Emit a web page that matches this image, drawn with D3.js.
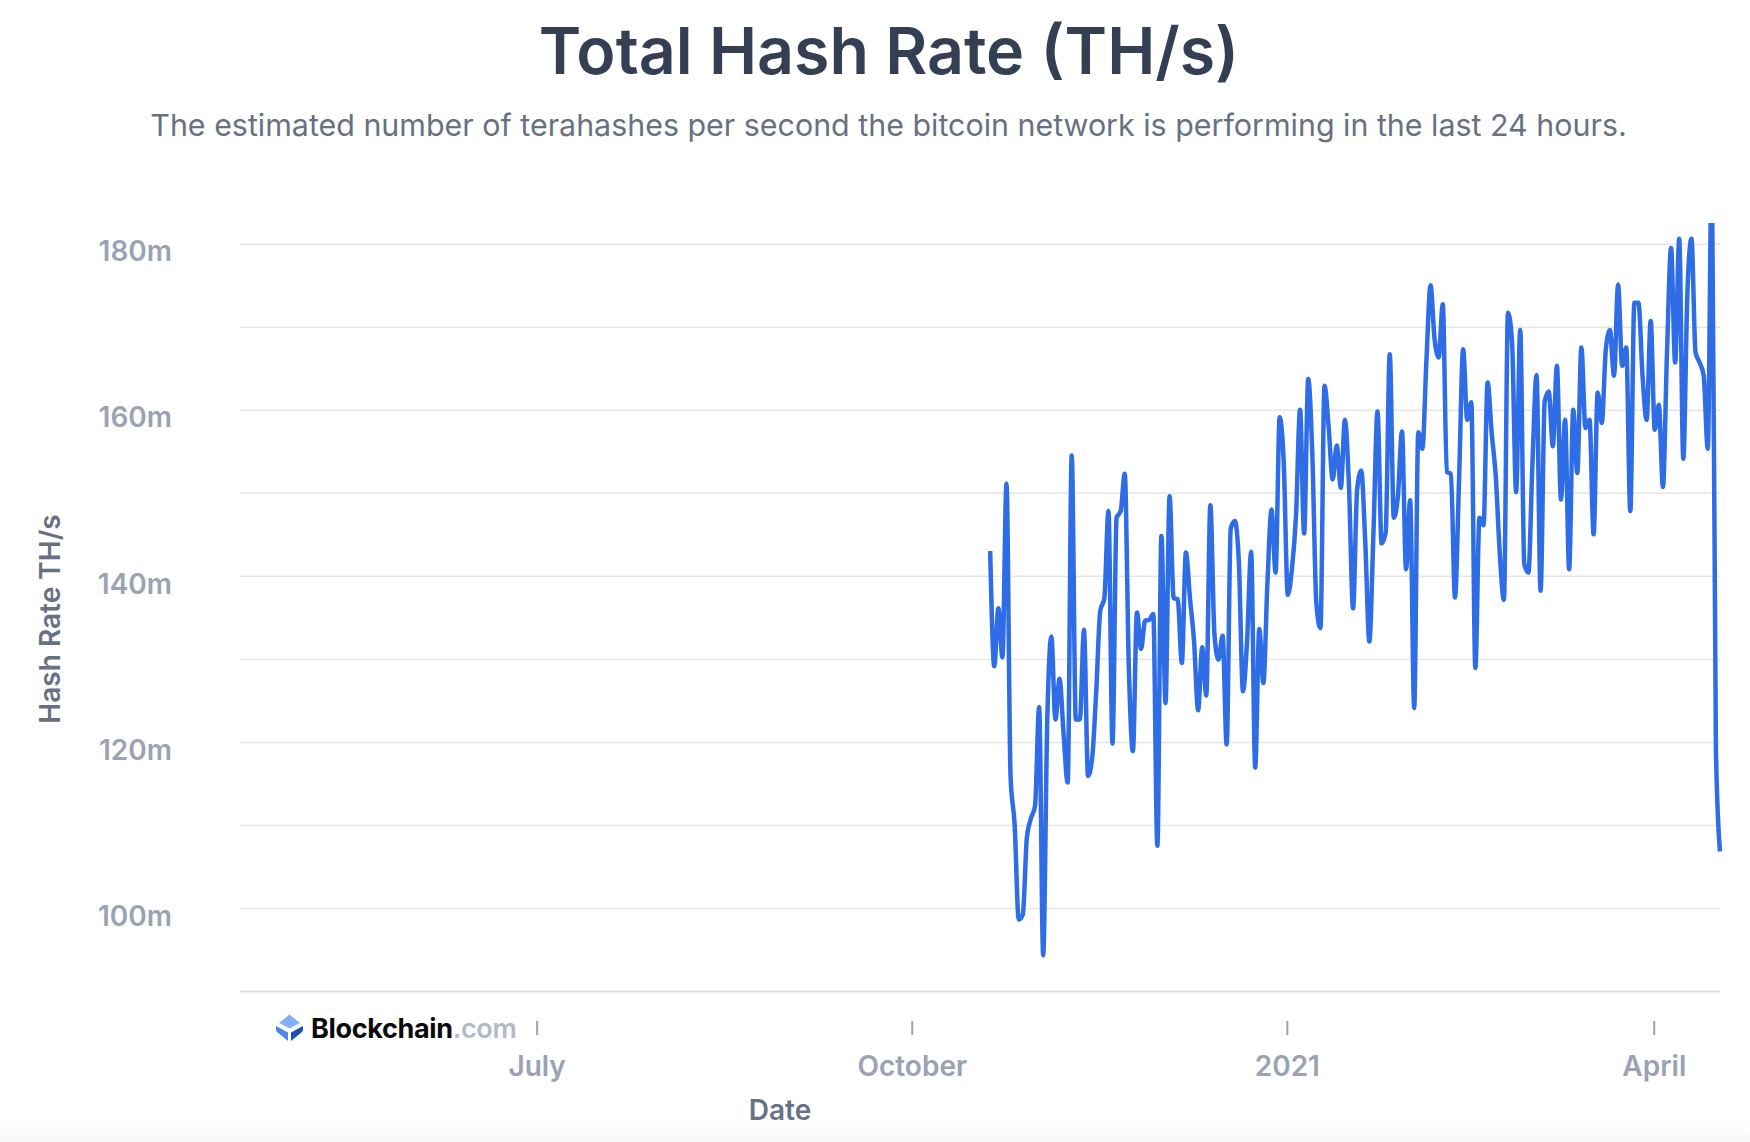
<!DOCTYPE html>
<html>
<head>
<meta charset="utf-8">
<title>Total Hash Rate (TH/s)</title>
<script src="https://cdn.jsdelivr.net/npm/d3@7"></script>
<style>
  body { margin: 0; background: #fff; font-family: Inter, sans-serif; }
  svg { display: block; }
</style>
</head>
<body>
<script>
// daily hash rate in millions of TH/s, first day is firstDay
const firstDay = Date.UTC(2020, 9, 20);
const hashRate = [
  143, 129.1, 136.1, 130.2, 151.1, 115.8, 110, 98.6, 99.2, 108.5,
  110.8, 112.3, 124.2, 94.3, 122.7, 132.7, 122.7, 127.6, 121, 115.1,
  154.5, 122.7, 122.7, 133.5, 115.9, 118, 126, 135.8, 137.3, 147.8,
  119.8, 147, 147.8, 152.3, 129.1, 118.9, 135.6, 131.2, 134.6, 134.7,
  135.4, 107.5, 144.8, 124.7, 149.6, 137.3, 137.2, 129.5, 142.8, 137.3,
  132.1, 123.8, 131.4, 125.6, 148.5, 133, 129.9, 132.8, 119.7, 145.7,
  146.6, 141.6, 126.1, 132.1, 142.9, 116.9, 133.6,
  127.1, 139.2, 148, 140.4, 159.1, 153.6, 137.7, 140.8, 147.2, 160,
  145.1, 163.7, 154.8, 136.7, 133.7, 162.9, 158, 151.6, 155.7, 150.6,
  158.8, 150.8, 136.1, 150.4, 152.7, 144, 132.1, 145.2, 159.8, 143.9,
  145.2, 166.7, 147, 149.6, 157.4, 140.8, 149.1, 124.1, 157.3, 155.3,
  166, 175, 168.5, 166.3, 172.7, 152.5, 152.3, 137.4, 151.6, 167.3,
  158.8, 160.9, 128.9, 147, 146.1, 163.3, 157.2, 152, 142.6,
  137.1, 171.7, 168.1, 150.1, 169.6, 141.4, 140.4, 153.6, 164.2, 138.2,
  161, 162.2, 155.6, 165.3, 149.2, 158.8, 140.8, 160, 152.4, 167.5,
  157.8, 158.8, 145, 162.1, 158.4, 167.3, 169.6, 164.1, 175.1, 165.3,
  167.5, 147.8, 172.9, 172.9, 164.1, 158.8, 170.7, 157.6, 160.6, 150.7,
  166.9, 179.5, 165.7, 180.6, 154.1, 174.1, 180.6, 166.9, 165.7, 164.1,
  155.3, 190, 119, 106.8
];
const hashDates = hashRate.map((d, i) => new Date(firstDay + i * 86400000));

const gridValues = [90, 100, 110, 120, 130, 140, 150, 160, 170, 180];
const yTickValues = [100, 120, 140, 160, 180];
const xTickDates = [Date.UTC(2020, 6, 1), Date.UTC(2020, 9, 1), Date.UTC(2021, 0, 1), Date.UTC(2021, 3, 1)].map(d => new Date(d));
const xTickLabels = ["July", "October", "2021", "April"];

const width = 1750, height = 1142;
const margin = {left: 240, right: 1720, top: 223, bottom: 991};

const svg = d3.select("body").append("svg")
    .attr("width", width)
    .attr("height", height)
    .attr("viewBox", "0 0 " + width + " " + height);

const x = d3.scaleUtc()
    .domain([new Date(Date.UTC(2020, 3, 19)), new Date(Date.UTC(2021, 3, 17))])
    .range([margin.left, margin.right]);

// 90m sits on the base line, 83px per 10m above it
const y = d3.scaleLinear()
    .domain([90, 182.5])
    .range([margin.bottom, margin.top]);

// faint strip along the bottom edge of the screenshot
const fade = svg.append("defs").append("linearGradient")
    .attr("id", "fade").attr("x1", 0).attr("x2", 0).attr("y1", 0).attr("y2", 1);
fade.append("stop").attr("offset", 0).attr("stop-color", "#ffffff");
fade.append("stop").attr("offset", 1).attr("stop-color", "#f7f7f8");
svg.append("rect")
    .attr("x", 0).attr("y", 1122).attr("width", width).attr("height", 20)
    .attr("fill", "url(#fade)");

svg.append("clipPath").attr("id", "plot")
  .append("rect")
    .attr("x", margin.left).attr("y", margin.top)
    .attr("width", margin.right - margin.left + 4).attr("height", margin.bottom - margin.top);

// title
svg.append("text")
    .attr("x", 889).attr("y", 74)
    .attr("text-anchor", "middle")
    .attr("font-size", 64.5).attr("font-weight", 600)
    .attr("fill", "#353f54")
    .text("Total Hash Rate (TH/s)");

svg.append("text")
    .attr("x", 888.5).attr("y", 136)
    .attr("text-anchor", "middle")
    .attr("font-size", 30.4).attr("font-weight", 400)
    .attr("fill", "#677183")
    .text("The estimated number of terahashes per second the bitcoin network is performing in the last 24 hours.");

// grid lines
const grid = svg.append("g")
    .attr("transform", "translate(" + margin.left + ",0)")
    .call(d3.axisLeft(y).tickValues(gridValues).tickSize(-(margin.right - margin.left)).tickFormat(""));
grid.select(".domain").remove();
grid.selectAll("line").attr("stroke", "#e4e6eb").attr("stroke-width", 1.5);
grid.selectAll(".tick").filter(d => d === 90).select("line")
    .attr("stroke", "#d9dce3").attr("stroke-width", 2);

// y labels
const yAxis = svg.append("g")
    .attr("transform", "translate(" + margin.left + ",0)")
    .call(d3.axisLeft(y).tickValues(yTickValues).tickSize(0).tickPadding(68).tickFormat(d => d + "m"));
yAxis.select(".domain").remove();
yAxis.selectAll("text")
    .attr("dy", "0.72em")
    .attr("y", -3)
    .attr("font-family", "Inter, sans-serif")
    .attr("font-size", 28).attr("font-weight", 600)
    .attr("fill", "#9aa2b3");

// x axis
const xAxis = svg.append("g")
    .attr("transform", "translate(-1,1021)")
    .call(d3.axisBottom(x)
      .tickValues(xTickDates)
      .tickSize(14)
      .tickPadding(21)
      .tickFormat((d, i) => xTickLabels[i]));
xAxis.select(".domain").remove();
xAxis.selectAll("line").attr("stroke", "#9aa2b3").attr("stroke-width", 2);
xAxis.selectAll("text")
    .attr("font-family", "Inter, sans-serif")
    .attr("font-size", 28).attr("font-weight", 600)
    .attr("fill", "#9aa2b3");

// axis titles
svg.append("text")
    .attr("transform", "translate(60,619) rotate(-90)")
    .attr("text-anchor", "middle")
    .attr("font-size", 28).attr("font-weight", 600)
    .attr("fill", "#677183")
    .text("Hash Rate TH/s");

svg.append("text")
    .attr("x", 780).attr("y", 1120)
    .attr("text-anchor", "middle")
    .attr("font-size", 28).attr("font-weight", 600)
    .attr("fill", "#677183")
    .text("Date");

// the line
const line = d3.line()
    .x((d, i) => x(hashDates[i]))
    .y(d => y(d))
    .curve(d3.curveMonotoneX);

svg.append("path")
    .datum(hashRate)
    .attr("clip-path", "url(#plot)")
    .attr("fill", "none")
    .attr("stroke", "#2f6de6")
    .attr("stroke-width", 4.5)
    .attr("stroke-linejoin", "round")
    .attr("d", line);

// Blockchain.com logo
const logo = svg.append("g");
logo.append("path").attr("d", "M289.5 1014.5 L300 1023 L289.5 1028.5 L279 1023 Z").attr("fill", "#85aef5");
logo.append("path").attr("d", "M276 1026 L288 1032.5 L288 1041 L277 1032 Q276 1031 276 1029 Z").attr("fill", "#4f85e8");
logo.append("path").attr("d", "M303 1026 L291 1032.5 L291 1041 L302 1032 Q303 1031 303 1029 Z").attr("fill", "#1f4fb5");

const logoText = logo.append("text")
    .attr("x", 311).attr("y", 1038)
    .attr("font-size", 27).attr("font-weight", 700)
    .attr("letter-spacing", "-0.35");
logoText.append("tspan").attr("fill", "#0b0b0d").text("Blockchain");
logoText.append("tspan").attr("fill", "#b3b9c7").attr("font-weight", 600).text(".com");
</script>
</body>
</html>
